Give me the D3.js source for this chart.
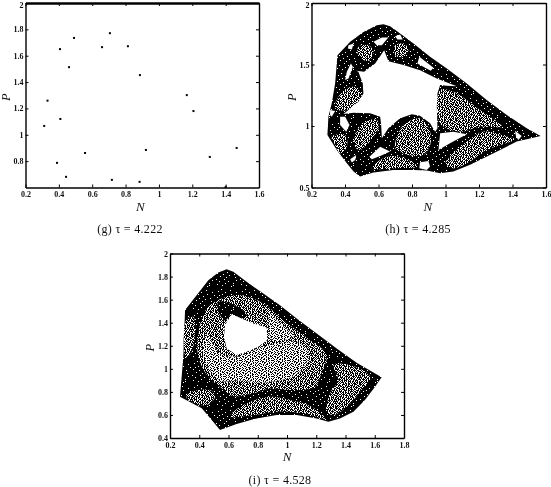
<!DOCTYPE html>
<html>
<head>
<meta charset="utf-8">
<script src="https://cdn.jsdelivr.net/npm/d3@7"></script>
<style>
body { margin: 0; background: #fff; }
svg { display: block; }
text { font-family: "Liberation Serif", serif; fill: #111; }
</style>
</head>
<body>
<div id="chart"></div>
<script>
// panel g: isolated points
var gN = [.407,.491,.461,.706,.659,.814,.886,1.167,1.207,.332,.409,.312,.389,.557,.443,.718,.884,.922,1.305,1.466,1.400];
var gP = [1.650,1.735,1.513,1.771,1.665,1.672,1.453,1.301,1.180,1.259,1.120,1.067,.787,.862,.681,.658,.643,.885,.832,.900,.603];

var hOutline = [[.630,1.827],[.669,1.811],[.709,1.773],[.809,1.670],[.908,1.562],[1.008,1.468],[1.127,1.346],[1.246,1.211],[1.366,1.089],[1.485,.981],[1.568,.919],[1.485,.892],[1.425,.873],[1.326,.805],[1.226,.738],[1.147,.684],[1.047,.630],[.968,.616],[.888,.638],[.809,.643],[.689,.643],[.570,.622],[.490,.589],[.451,.630],[.411,.697],[.351,.805],[.295,.927],[.301,1.076],[.321,1.184],[.341,1.346],[.355,1.576],[.431,1.684],[.510,1.765],[.590,1.819]];
var hSparse = [
  [[.480,1.643],[.540,1.657],[.570,1.603],[.550,1.535],[.510,1.535],[.475,1.589]],
  [[.699,1.657],[.753,1.670],[.779,1.616],[.749,1.562],[.699,1.576]],
  [[.361,1.238],[.421,1.314],[.480,1.305],[.500,1.224],[.411,1.130],[.341,1.143]],
  [[.461,.927],[.520,1.035],[.590,1.049],[.600,.981],[.540,.859],[.490,.805],[.461,.832]],
  [[.699,.859],[.749,1.008],[.848,1.062],[.908,.954],[.908,.846],[.868,.765],[.779,.765],[.699,.819]],
  [[.968,1.292],[1.047,1.278],[1.206,1.130],[1.336,.995],[1.206,.995],[1.087,.954],[.968,1.022]],
  [[1.027,.751],[1.127,.873],[1.226,.954],[1.366,.914],[1.415,.892],[1.246,.805],[1.127,.697],[1.047,.657],[1.000,.697]],
  [[.560,.657],[.650,.751],[.769,.730],[.832,.670],[.709,.657]],
  [[.321,.914],[.401,.927],[.411,.832],[.371,.778],[.341,.846]]
];
var hHoles = [
  [[.467,1.449],[.514,1.441],[.580,1.508],[.634,1.616],[.659,1.527],[.749,1.495],[.848,1.454],[.948,1.387],[1.067,1.324],[1.008,1.327],[.968,1.333],[.952,1.265],[.948,1.157],[.952,.981],[.938,.954],[.908,1.022],[.848,1.084],[.799,1.095],[.729,1.062],[.659,.981],[.620,.900],[.616,1.008],[.610,1.076],[.550,1.103],[.451,1.108],[.391,1.097],[.480,1.197],[.510,1.265],[.506,1.346],[.480,1.441]],
  [[.570,1.684],[.620,1.719],[.659,1.719],[.620,1.657],[.590,1.657]],
  [[.699,1.730],[.729,1.743],[.745,1.703],[.713,1.703]],
  [[.844,1.562],[.928,1.473],[.912,1.449],[.832,1.508]],
  [[.421,1.657],[.451,1.670],[.441,1.622],[.417,1.630]],
  [[.411,1.441],[.435,1.508],[.447,1.481],[.421,1.387],[.401,1.373]],
  [[.371,1.076],[.401,1.076],[.427,1.008],[.407,.954],[.371,1.008]],
  [[.311,1.130],[.341,1.122],[.321,1.076],[.311,1.089]],
  [[.546,.751],[.610,.832],[.669,.792],[.610,.757],[.560,.730]],
  [[.848,.705],[.898,.716],[.908,.670],[.888,.643],[.844,.657]],
  [[.968,.941],[1.047,.954],[1.127,.932],[1.027,.859],[.958,.805]],
  [[1.336,1.151],[1.366,1.116],[1.350,1.103]],
  [[1.415,.962],[1.455,.919],[1.435,.887],[1.421,.914]],
  [[.431,.730],[.467,.765],[.461,.724],[.441,.703]]
];

// panel i
var iOutline = [[.587,1.864],[.633,1.841],[.724,1.754],[.838,1.653],[.952,1.552],[1.066,1.437],[1.203,1.307],[1.340,1.177],[1.476,1.053],[1.647,.926],[1.602,.845],[1.533,.729],[1.454,.628],[1.362,.570],[1.283,.542],[1.203,.570],[1.066,.599],[.929,.599],[.793,.570],[.656,.521],[.542,.469],[.485,.556],[.417,.657],[.268,.758],[.275,.859],[.291,1.105],[.303,1.509],[.382,1.639],[.462,1.769],[.530,1.835]];
var iSparse = [
  [[.451,1.523],[.530,1.596],[.679,1.639],[.838,1.567],[.975,1.422],[1.157,1.249],[1.271,1.119],[1.237,.975],[1.191,.845],[1.020,.816],[.884,.830],[.770,.787],[.633,.764],[.542,.845],[.462,.931],[.394,1.105],[.394,1.307]],
  [[.310,1.420],[.360,1.450],[.350,1.150],[.310,1.100]],
  [[.610,.585],[.701,.686],[.884,.758],[1.020,.729],[1.169,.671],[1.260,.570],[1.112,.614],[.929,.628],[.770,.599]],
  [[1.317,1.032],[1.431,1.032],[1.568,.931],[1.499,.801],[1.408,.671],[1.317,.599],[1.271,.628],[1.294,.787],[1.351,.903]],
  [[.325,.787],[.473,.816],[.508,.758],[.451,.686],[.371,.700],[.314,.744]]
];
var iMid = [
  [[.450,1.300],[.542,1.134],[.656,1.105],[.838,1.191],[1.066,1.230],[1.150,1.130],[1.060,.950],[.838,.880],[.680,.900],[.540,.900],[.430,1.105]],
  [[.880,1.480],[.960,1.380],[1.050,1.290],[.900,1.250]]
];
var iDense = [
  [[.530,1.580],[.633,1.555],[.724,1.470],[.690,1.437],[.622,1.474],[.576,1.420],[.530,1.500]]
];
var iHoles = [
  [[.622,1.474],[.690,1.437],[.770,1.394],[.861,1.359],[.865,1.249],[.804,1.191],[.724,1.148],[.656,1.119],[.587,1.177],[.569,1.278],[.576,1.379]]
];

var denseTile = [
"########################","#####.##################","##############.#########","##.#####################",
"#########.##########.###","########################","######.########.########","###.##################.#",
"###########.############","#.######################","#######.##########.#####","#############.##########",
"####.###################","##########.########.####","########################",".#######.###############",
"####################.###","###.########.###########","########################","#########.#######.######",
"#.######################","######.##########.######","###############.########","########################"];
var sparseTile = [
"##.#..###.#.##..#.###..#","#.###.#..##.#.###.#..##.","..#.##.#.#.###.#.##.#.##","##.#..###.##..##.#.###..",
".###.#.#..#.##.#..#.#.##","#..##.###.#.#.###.##..#.","##.#.#..###.##.#.#..###.",".#.###.#.#..#.###.##.#.#",
"#.#.#.##.##.#.#..#.###.#","###..#.#.#.###.##.#.#..#",".#.##.###.#..#.#.###.##.","#.#..#.#.###.##.#.#.#.##",
"##.###.#..#.#.###..#.#..","#.#.#.##.##.#.#.##.###.#",".##.#.#.#..###.#.#.#.#.#","#.###..##.#.#.##.#.##.##",
"#.#.#.#..###.#..###.#.#.","##..###.#.#.##.#.#.#.###",".#.#.#.##.#.#.###.#..#.#","#.###.#.#.##.#.#.##.#.##",
"#..#.##.###.#.#..#.###..",".##.#.#.#.#.###.##.#.#.#","##.#.###.#..#.#.#.#.##.#","#.#.#..#.##.##.#.###.#.#"];
var midTile = [
"#..#.#...##.#..#","..#...##.#...#.#",".#.##.#...#.#...","#....#..##..#.#.",
"..##...#..#...##","#..#.##...#.#...",".#...#..#...##.#","..#.#..##.#.#...",
"##...#....#..#.#","..#.#.##..#.#...",".#....#.##...#.#","#..##...#..#.#..",
"..#..#.#..##...#",".#.#...#.#...#.#","#...##....#.#...","..#...#.##...##."];

var svg = d3.select("#chart").append("svg").attr("width", 551).attr("height", 487);
var defs = svg.append("defs");
defs.append("filter").attr("id", "soft")
    .attr("filterUnits", "userSpaceOnUse")
    .attr("x", 0).attr("y", 0)
    .attr("width", 551).attr("height", 487)
    .append("feGaussianBlur").attr("stdDeviation", 0.3);
var root = svg.append("g").attr("filter", "url(#soft)");
root.append("rect").attr("width", 551).attr("height", 487).attr("fill", "#fff");

function addTile(id, rows) {
    let n = rows.length;
    let p = defs.append("pattern").attr("id", id)
        .attr("patternUnits", "userSpaceOnUse")
        .attr("width", n).attr("height", n);
    p.append("rect").attr("width", n).attr("height", n).attr("fill", "#fff");
    rows.forEach((row, y) => {
        row.split("").forEach((c, x) => {
            if (c == "#") p.append("rect").attr("x", x).attr("y", y).attr("width", 1).attr("height", 1).attr("fill", "#000");
        });
    });
}
addTile("dense", denseTile);
addTile("sparse", sparseTile);
addTile("mid", midTile);

function panel(o) {
    let g = root.append("g");
    let x = d3.scaleLinear().domain(o.xDomain).range([o.left, o.right]);
    let y = d3.scaleLinear().domain(o.yDomain).range([o.bottom, o.top]);
    let fmt = d => String(+d.toFixed(1));

    (o.layers || []).forEach(l => {
        let line = d3.line().x(d => x(d[0])).y(d => y(d[1]))
            .curve(l.sharp ? d3.curveLinearClosed : d3.curveCatmullRomClosed);
        g.selectAll(null).data(l.polys).enter().append("path")
            .attr("d", line)
            .attr("fill", l.fill);
    });
    if (o.pts) {
        g.selectAll(null).data(o.pts).enter().append("rect")
            .attr("x", d => x(d[0]) - 1)
            .attr("y", d => y(d[1]) - 1)
            .attr("width", 2).attr("height", 2)
            .attr("fill", "#000");
    }

    let xAxis = d3.axisBottom(x).tickValues(o.xTicks).tickFormat(fmt).tickSizeInner(-3).tickSizeOuter(0).tickPadding(4);
    let yAxis = d3.axisLeft(y).tickValues(o.yTicks).tickFormat(fmt).tickSizeInner(-3).tickSizeOuter(0).tickPadding(2);
    let xTop = d3.axisTop(x).tickValues(o.xTicks).tickFormat("").tickSizeInner(-3).tickSizeOuter(0);
    let yRight = d3.axisRight(y).tickValues(o.yTicks).tickFormat("").tickSizeInner(-3).tickSizeOuter(0);
    g.append("g").attr("transform", "translate(0," + o.bottom + ")").call(xAxis);
    let left = g.append("g").attr("transform", "translate(" + o.left + ",0)").call(yAxis);
    let topAxis = g.append("g").attr("transform", "translate(0," + o.top + ")").call(xTop);
    g.append("g").attr("transform", "translate(" + o.right + ",0)").call(yRight);
    g.selectAll(".tick text").attr("font-size", 8).attr("font-weight", "bold").attr("font-family", "Liberation Serif");
    // the top label sits right on the page edge
    left.selectAll(".tick text").filter(d => d == 2 && o.top < 10).attr("dy", "0.5em");
    g.selectAll(".domain").attr("stroke", "#000").attr("stroke-width", 1.4);
    g.selectAll(".tick line").attr("stroke", "#000");
    if (o.topWidth) topAxis.select(".domain").attr("stroke-width", o.topWidth);

    g.append("text").attr("x", (o.left + o.right) / 2 + o.nShift).attr("y", o.bottom + 23)
        .attr("text-anchor", "middle").attr("font-style", "italic").attr("font-size", 13).text("N");
    g.append("text").attr("transform", "translate(" + (o.left - 16) + "," + ((o.top + o.bottom) / 2 + 2) + ") rotate(-90)")
        .attr("text-anchor", "middle").attr("font-style", "italic").attr("font-size", 12.5).text("P");
    g.append("text").attr("x", o.capX).attr("y", o.capY)
        .attr("text-anchor", "middle").attr("font-size", 12).attr("letter-spacing", 0.3).text(o.caption);
}

panel({
    left: 25.5, right: 259, top: 3, bottom: 187.5, nShift: -2, topWidth: 2.4,
    xDomain: [.2, 1.6], yDomain: [.6, 2],
    xTicks: [.2,.4,.6,.8,1,1.2,1.4,1.6], yTicks: [.8,1,1.2,1.4,1.6,1.8,2],
    pts: gN.map((n, i) => [n, gP[i]]),
    capX: 130, capY: 233, caption: "(g) τ = 4.222"
});
panel({
    left: 311.5, right: 546, top: 3, bottom: 187.5, nShift: -1,
    xDomain: [.2, 1.6], yDomain: [.5, 2],
    xTicks: [.2,.4,.6,.8,1,1.2,1.4,1.6], yTicks: [.5,1,1.5,2],
    layers: [
        {polys: [hOutline], fill: "url(#dense)", sharp: true},
        {polys: hSparse, fill: "url(#sparse)"},
        {polys: hHoles, fill: "#fff", sharp: true}
    ],
    capX: 418, capY: 233, caption: "(h) τ = 4.285"
});
panel({
    left: 170, right: 404, top: 253.5, bottom: 438, nShift: 0,
    xDomain: [.2, 1.8], yDomain: [.4, 2],
    xTicks: [.2,.4,.6,.8,1,1.2,1.4,1.6,1.8], yTicks: [.4,.6,.8,1,1.2,1.4,1.6,1.8,2],
    layers: [
        {polys: [iOutline], fill: "url(#dense)", sharp: true},
        {polys: iSparse, fill: "url(#sparse)"},
        {polys: iMid, fill: "url(#mid)"},
        {polys: iDense, fill: "url(#dense)"},
        {polys: iHoles, fill: "#fff", sharp: true}
    ],
    capX: 280, capY: 484, caption: "(i) τ = 4.528"
});
</script>
</body>
</html>
